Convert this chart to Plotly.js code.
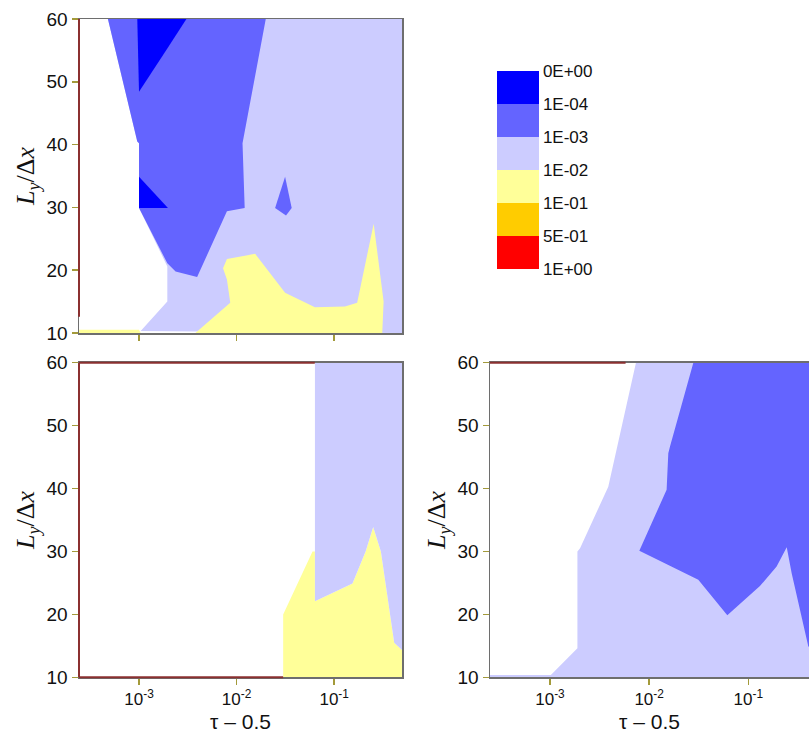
<!DOCTYPE html>
<html><head><meta charset="utf-8">
<script src="https://cdn.plot.ly/plotly-3.0.1.min.js"></script>
<style>html,body{margin:0;padding:0;background:#fff}#chart{width:809px;height:736px}</style>
</head><body><div id="chart"></div>
<script>
// Legend classes (top to bottom)
const legendLabels = ['0E+00','1E-04','1E-03','1E-02','1E-01','5E-01','1E+00'];
const legendColors = ['#0000FF','#6464FF','#CCCCFF','#FFFF99','#FFCC00','#FF0000'];
const xTickVals = [0.001, 0.01, 0.1];
const xTickText = ['10<sup>-3</sup>','10<sup>-2</sup>','10<sup>-1</sup>'];
const yTickVals = [10,20,30,40,50,60];

// Panel 1 (top-left) region boundaries: x = tau-0.5, y = Ly/dx
const p1LavX = [0.00048,0.5,0.5,0.00104,0.00195,0.00195,0.001,0.001,0.00096];
const p1LavY = [60,60,10,10.3,15,20.6,29.9,40.2,40.5];
const p1MidX = [0.00048,0.0199,0.0115,0.0121,0.00796,0.00394,0.00237,0.00195,0.001,0.001,0.00096];
const p1MidY = [60,60,40.2,29.9,29.4,18.9,19.8,21.1,29.9,40.2,40.5];
const p1Mid2X = [0.0314,0.0367,0.0321,0.0248];
const p1Mid2Y = [34.9,29.9,28.7,29.9];
const p1DarkX = [0.00096,0.00306,0.00195,0.001];
const p1DarkY = [60,60,55.3,48.4];
const p1Dark2X = [0.001,0.00198,0.001];
const p1Dark2Y = [34.9,29.9,29.9];
const p1YelX = [0.00796,0.0155,0.0314,0.0635,0.129,0.172,0.254,0.321,0.311,0.00378,0.00861,0.00796,0.00726];
const p1YelY = [21.8,22.6,16.4,14.1,14.2,14.8,27.4,15.0,10,10,14.8,18.5,20.3];
const p1Yel2X = [0.00024,0.00104,0.001,0.00024];
const p1Yel2Y = [10,10,10.5,10.5];

// Panel 2 (bottom-left)
const p2YelX = [0.03,0.03,0.06,0.0635,0.0635,0.154,0.21,0.251,0.301,0.412,0.5,0.5];
const p2YelY = [10,20,30,30,22.1,24.9,30,33.9,30,15.5,14.3,10];
const p2LavX = [0.0635,0.5,0.5,0.412,0.301,0.251,0.21,0.154,0.0635];
const p2LavY = [60,60,14.3,15.5,30,33.9,30,24.9,22.1];

// Panel 3 (bottom-right)
const p3LavX = [0.00736,0.5,0.5,0.00024,0.00024,0.00102,0.00189,0.00189,0.00201,0.00387];
const p3LavY = [60,60,10,10,10.35,10.37,14.6,30.0,30.5,40.3];
const p3MidX = [0.0279,0.5,0.5,0.403,0.274,0.244,0.193,0.131,0.0614,0.0313,0.00796,0.015,0.0156,0.0162];
const p3MidY = [60,60,14.5,14.9,26.5,30.66,27.6,24.5,19.85,25.5,30.13,39.8,45.6,46.65];

const C = {dark:legendColors[0], mid:legendColors[1], lav:legendColors[2], yel:legendColors[3]};
function poly(x,y,color,xa,ya){
  return {type:'scatter',mode:'lines',x:x,y:y,fill:'toself',fillcolor:color,
    line:{width:0,color:color},xaxis:xa,yaxis:ya,hoverinfo:'skip',showlegend:false};
}
const traces = [
  poly(p1LavX,p1LavY,C.lav,'x','y'),
  poly(p1MidX,p1MidY,C.mid,'x','y'),
  poly(p1Mid2X,p1Mid2Y,C.mid,'x','y'),
  poly(p1DarkX,p1DarkY,C.dark,'x','y'),
  poly(p1Dark2X,p1Dark2Y,C.dark,'x','y'),
  poly(p1YelX,p1YelY,C.yel,'x','y'),
  poly(p1Yel2X,p1Yel2Y,C.yel,'x','y'),
  poly(p2YelX,p2YelY,C.yel,'x2','y2'),
  poly(p2LavX,p2LavY,C.lav,'x2','y2'),
  poly(p3LavX,p3LavY,C.lav,'x3','y3'),
  poly(p3MidX,p3MidY,C.mid,'x3','y3')
];
// colour key (discrete colour bar)
const n = legendColors.length;
const cs = [];
for(let i=0;i<n;i++){ const c = legendColors[n-1-i]; cs.push([i/n,c]); cs.push([(i+1)/n,c]); }
traces.push({type:'scatter',mode:'markers',x:[0.001,0.001],y:[-50,-50],xaxis:'x',yaxis:'y',
  hoverinfo:'skip',showlegend:false,
  marker:{color:[0,n],cmin:0,cmax:n,colorscale:cs,opacity:0,showscale:true,
    colorbar:{x:497/809,xanchor:'left',xref:'paper',y:1-170/736,yanchor:'middle',yref:'paper',
      len:198,lenmode:'pixels',thickness:42,thicknessmode:'pixels',xpad:0,ypad:0,
      outlinewidth:0,ticks:'',tickvals:legendLabels.map((_,i)=>n-i),ticktext:legendLabels,
      tickfont:{family:'Liberation Sans, Arial, sans-serif',size:17,color:'#111'}}}});

const lineC = '#6e6e6e', tickC = '#a39a3a';
const tfY = {family:'Liberation Sans, Arial, sans-serif',size:19,color:'#111'};
const tfX = {family:'Liberation Sans, Arial, sans-serif',size:17,color:'#111'};
const yTitle = {text:'<i>L</i><sub><i>y</i></sub>/Δ<i>x</i>',font:{family:'Liberation Serif, Times New Roman, serif',size:26,color:'#111'},standoff:4};
const xTitle = {text:'τ – 0.5',font:{family:'Liberation Sans, Arial, sans-serif',size:21,color:'#111'},standoff:6};
function xa(dom,rng,anchor,labels){
  return {type:'log',range:rng,domain:dom,anchor:anchor,showline:true,mirror:true,linecolor:lineC,linewidth:1.5,
    ticks:'outside',ticklen:6,tickwidth:1.5,tickcolor:tickC,tickvals:xTickVals,ticktext:xTickText,
    showticklabels:labels,tickfont:tfX,showgrid:false,zeroline:false,fixedrange:true,
    title: labels ? xTitle : undefined};
}
function ya(dom,anchor,mirror){
  return {range:[10,60],domain:dom,anchor:anchor,showline:true,mirror:mirror,linecolor:lineC,linewidth:1.5,
    ticks:'outside',ticklen:6,tickwidth:1.5,tickcolor:tickC,tickvals:yTickVals,tickfont:tfY,
    showgrid:false,zeroline:false,fixedrange:true,title:yTitle};
}
const dTopY = [1-333/736, 1-19/736], dBotY = [1-677.3/736, 1-362.7/736];
const dLX = [79/809, 402/809], dRX = [490/809, 1];
const red = '#8b3030';
const layout = {
  width:809,height:736,margin:{l:0,r:0,t:0,b:0},paper_bgcolor:'#fff',plot_bgcolor:'#fff',showlegend:false,
  xaxis: xa(dLX,[-3.615,-0.305],'y',false),
  yaxis: ya(dTopY,'x',true),
  xaxis2: xa(dLX,[-3.615,-0.305],'y2',true),
  yaxis2: ya(dBotY,'x2',true),
  xaxis3: xa(dRX,[-3.605,-0.388],'y3',true),
  yaxis3: ya(dBotY,'x3',false),
  shapes:[
    {type:'line',xref:'x domain',yref:'y',x0:0,x1:0,y0:12.6,y1:60,line:{color:red,width:2}},
    {type:'line',xref:'x2 domain',yref:'y2',x0:0,x1:0,y0:10,y1:60,line:{color:red,width:2}},
    {type:'line',xref:'x2 domain',yref:'y2 domain',x0:0,x1:0.632,y0:0,y1:0,line:{color:red,width:2}},
    {type:'line',xref:'x2 domain',yref:'y2 domain',x0:0,x1:0.73,y0:1,y1:1,line:{color:red,width:2}},
    {type:'line',xref:'x3 domain',yref:'y3 domain',x0:0,x1:0.425,y0:1,y1:1,line:{color:red,width:2}}
  ]
};
Plotly.newPlot('chart',traces,layout,{displayModeBar:false,staticPlot:true});
</script></body></html>
